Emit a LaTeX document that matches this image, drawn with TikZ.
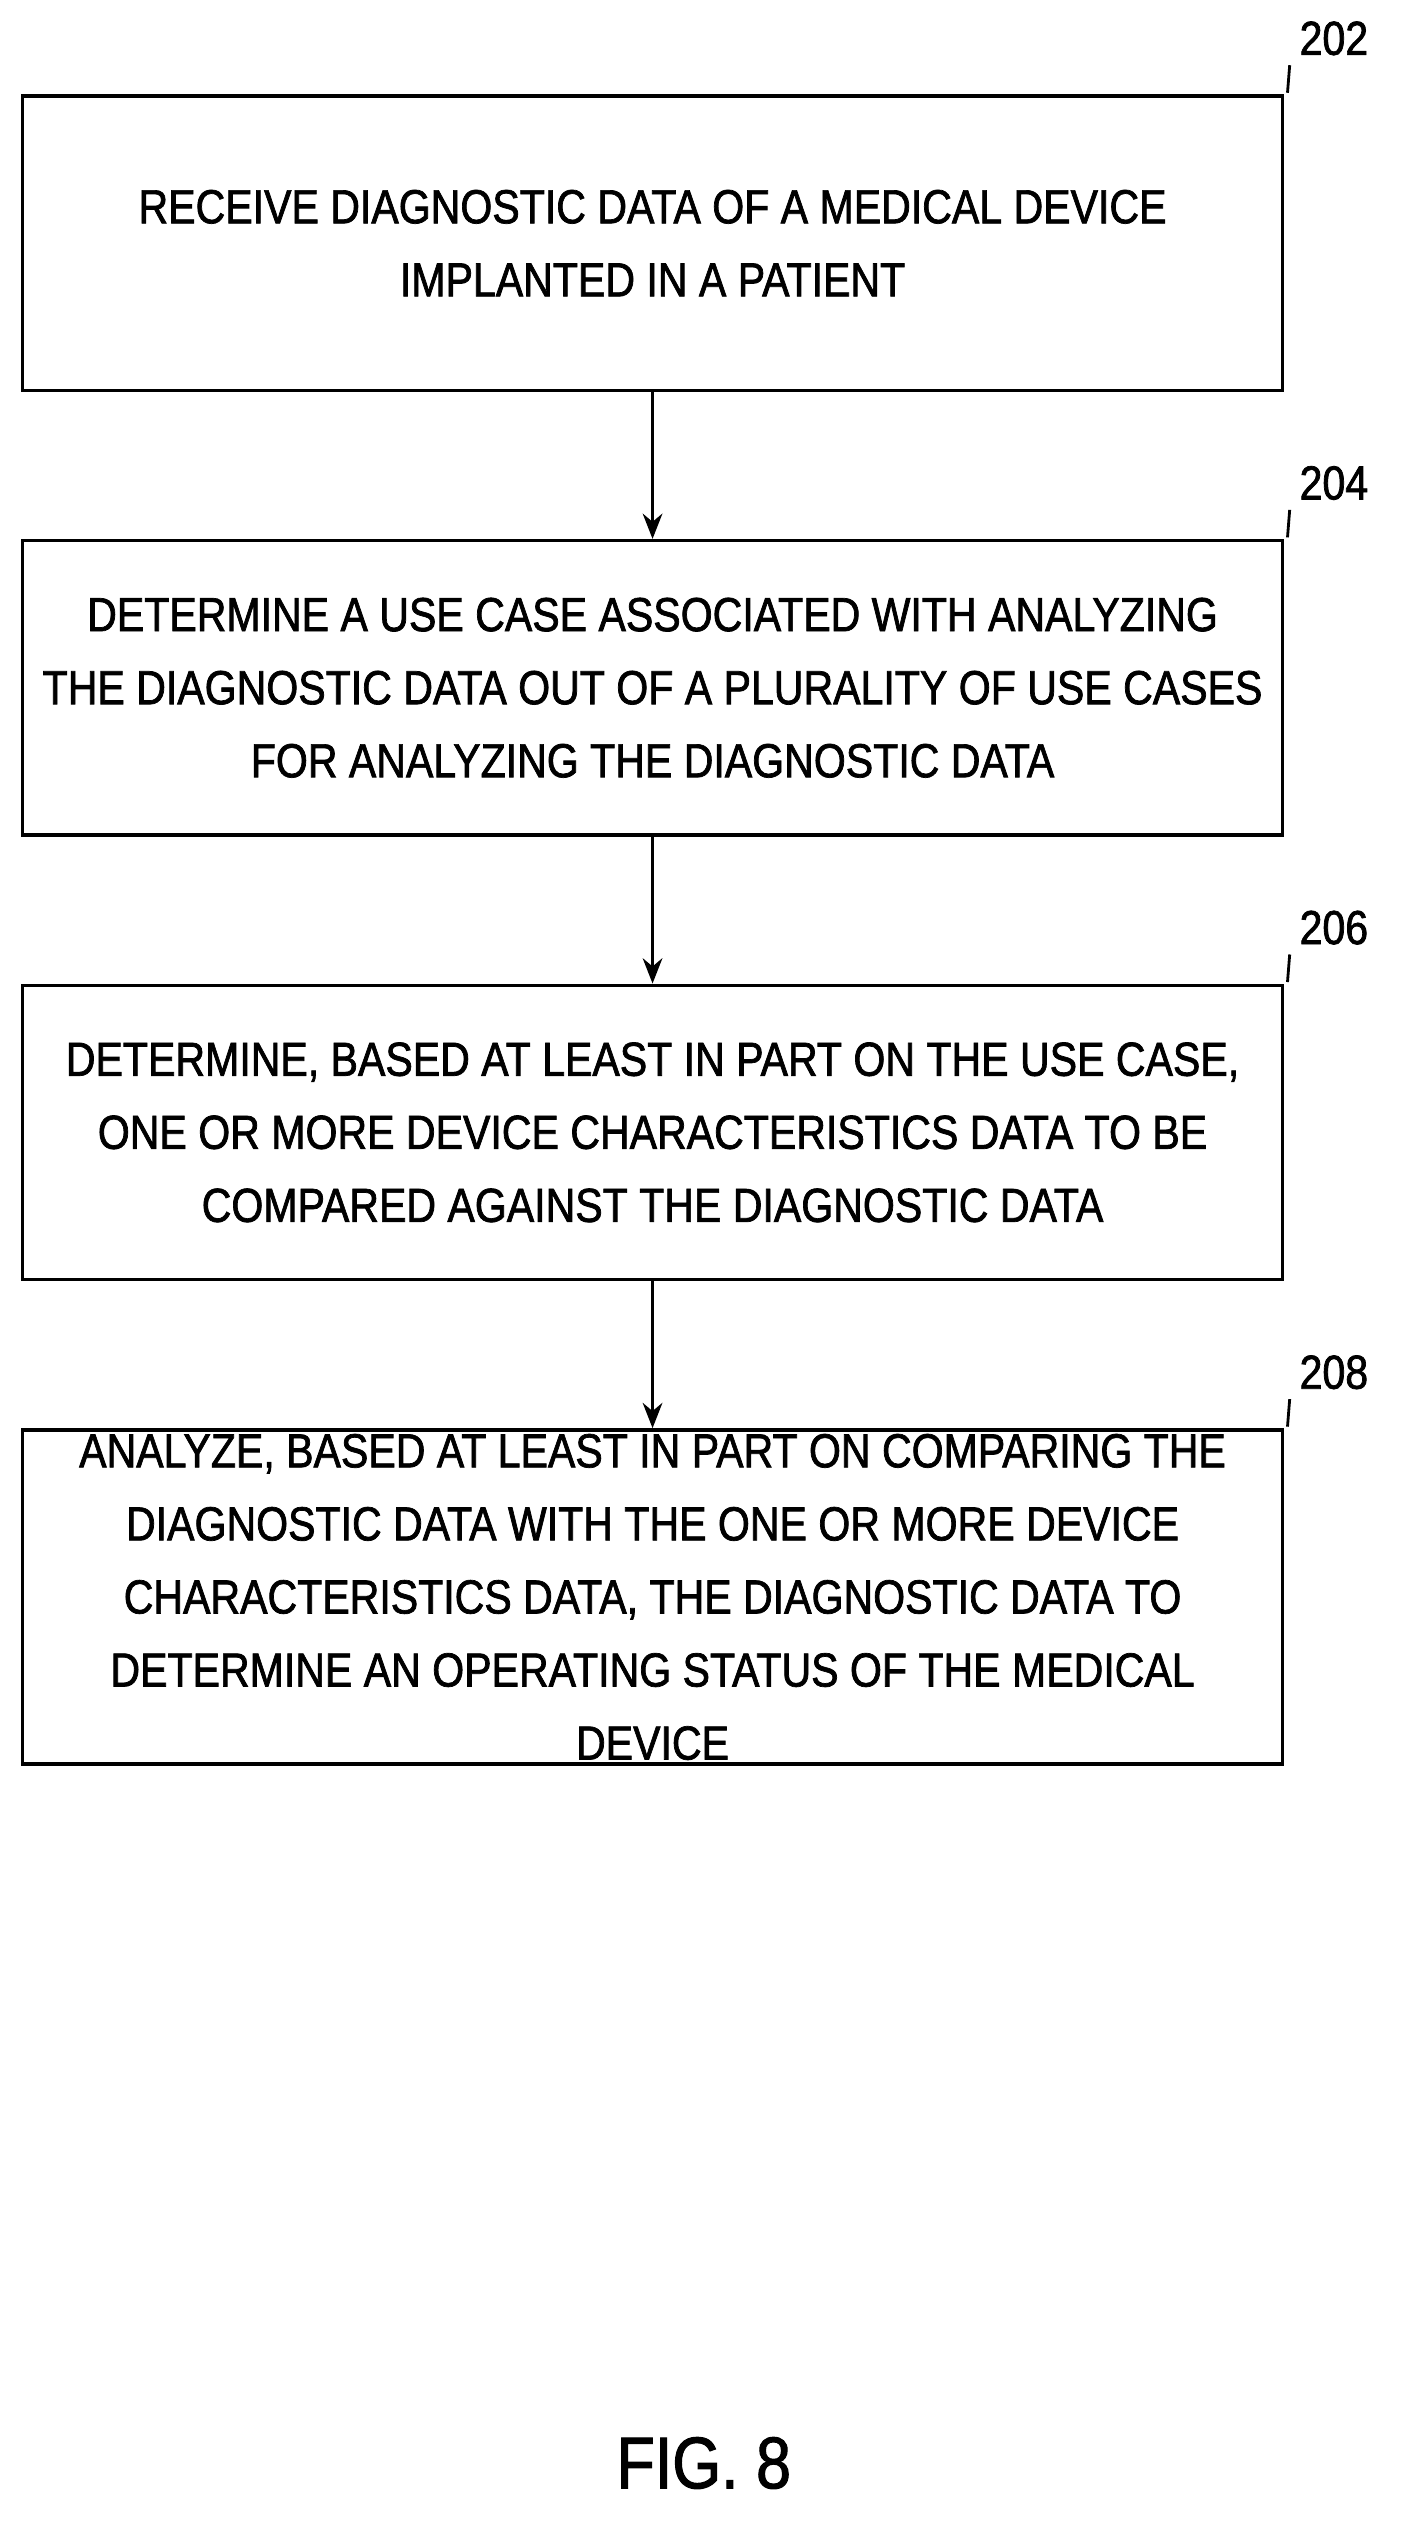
\documentclass[tikz,border=0pt]{standalone}
\usepackage{fontspec}
\setmainfont[FakeStretch=0.86,FakeBold=1.5]{Liberation Sans}
\usetikzlibrary{positioning,arrows.meta}
\begin{document}
\begin{tikzpicture}[x=0.02cm, y=-0.02cm, font=\fontsize{17}{26}\selectfont,
  stepbox/.style={draw, line width=1.2pt, minimum width=788*0.02cm, align=center, inner sep=0pt},
  refnum/.style={font=\fontsize{17}{20}\selectfont},
  arr/.style={-{Stealth[length=9pt,width=7pt]}, line width=1pt}]
  \useasboundingbox (0,0) rectangle (880,1585);
  % Steps
  \node[stepbox, minimum height=184*0.02cm] (receive) at (408,152) {RECEIVE DIAGNOSTIC DATA OF A MEDICAL DEVICE\\IMPLANTED IN A PATIENT};
  \node[stepbox, minimum height=184*0.02cm] (usecase) at (408,430) {DETERMINE A USE CASE ASSOCIATED WITH ANALYZING\\THE DIAGNOSTIC DATA OUT OF A PLURALITY OF USE CASES\\FOR ANALYZING THE DIAGNOSTIC DATA};
  \node[stepbox, minimum height=184*0.02cm] (charac) at (408,708) {DETERMINE, BASED AT LEAST IN PART ON THE USE CASE,\\ONE OR MORE DEVICE CHARACTERISTICS DATA TO BE\\COMPARED AGAINST THE DIAGNOSTIC DATA};
  \node[stepbox, minimum height=209*0.02cm] (analyze) at (408,998.5) {ANALYZE, BASED AT LEAST IN PART ON COMPARING THE\\DIAGNOSTIC DATA WITH THE ONE OR MORE DEVICE\\CHARACTERISTICS DATA, THE DIAGNOSTIC DATA TO\\DETERMINE AN OPERATING STATUS OF THE MEDICAL\\DEVICE};

  % Arrows
  \draw[arr] (receive) -- (usecase);
  \draw[arr] (usecase) -- (charac);
  \draw[arr] (charac) -- (analyze);

  % Reference numerals
  \node[refnum] (n202) at (834,24) {202};
  \node[refnum] (n204) at (834,302) {204};
  \node[refnum] (n206) at (834,580) {206};
  \node[refnum] (n208) at (834,858) {208};
  \draw[line width=1pt] (805,58) -- (n202.south west);
  \draw[line width=1pt] (805,336) -- (n204.south west);
  \draw[line width=1pt] (805,614) -- (n206.south west);
  \draw[line width=1pt] (805,892) -- (n208.south west);

  \node[font=\fontsize{26}{30}\selectfont] (fig) at (440,1540) {FIG. 8};
\end{tikzpicture}
\end{document}
